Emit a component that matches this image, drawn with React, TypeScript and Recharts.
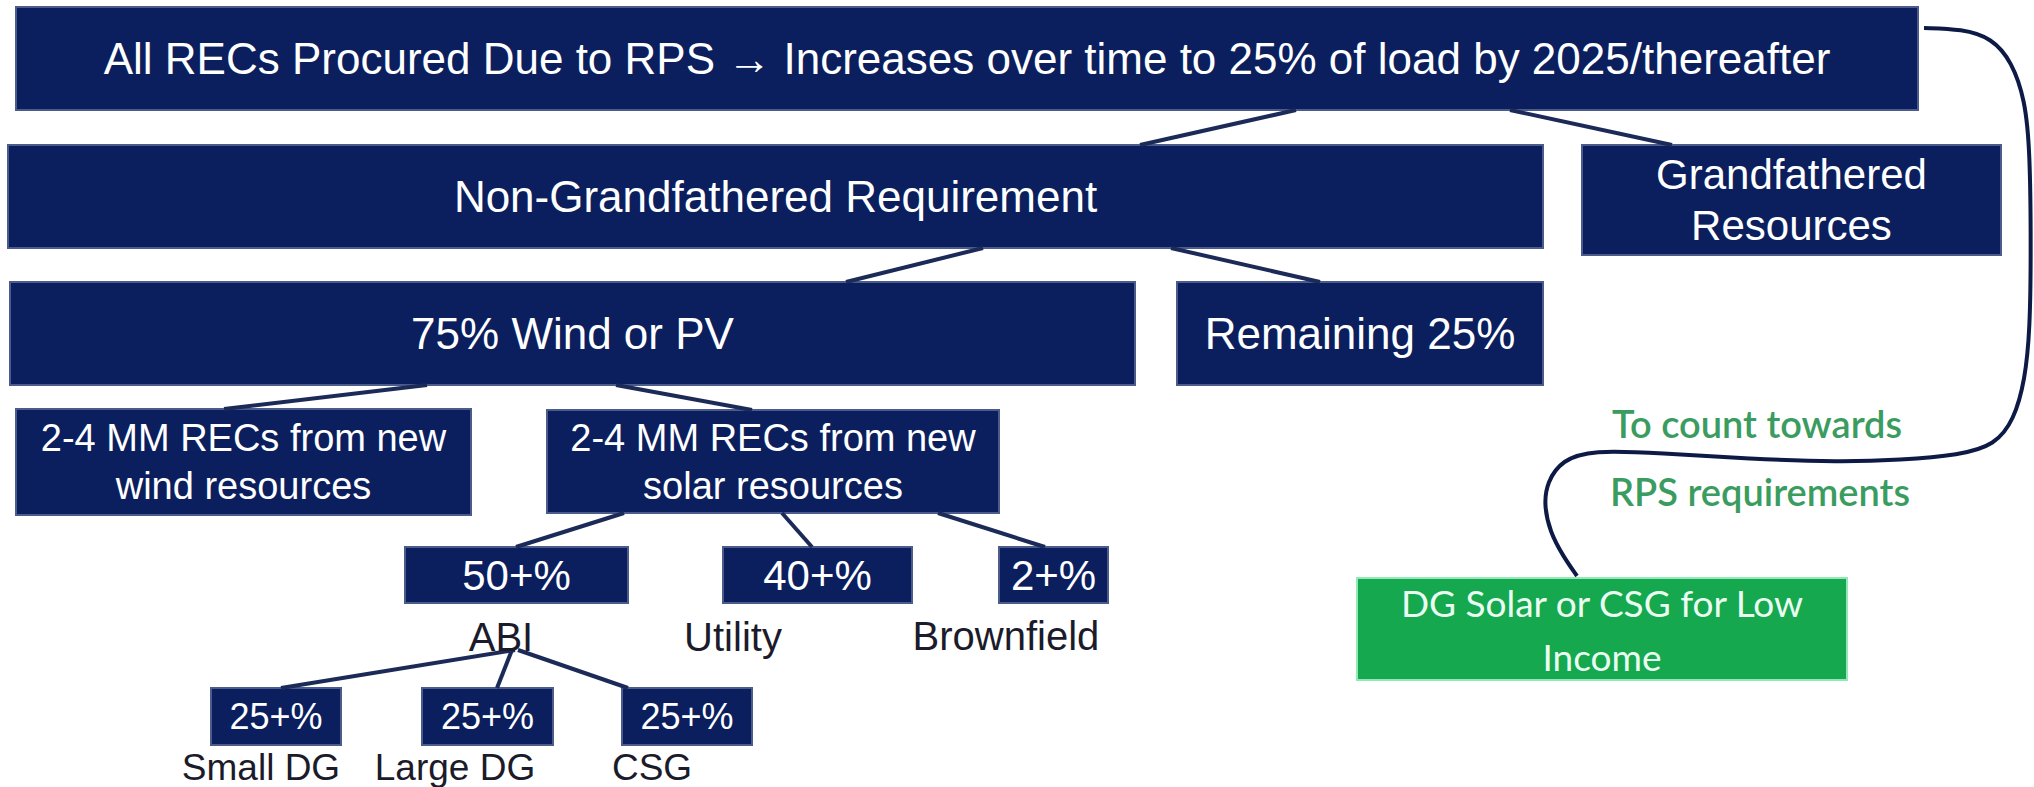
import React from "react";
import {
  ComposedChart,
  XAxis,
  YAxis,
  ReferenceArea,
  ReferenceLine,
  Line,
  Scatter,
} from "recharts";

// diagram lives in the picture's own pixel space: x 0..2034, y 0..787 (top down)
const boxes = [
  { text: "All RECs Procured Due to RPS \u2192 Increases over time to 25% of load by 2025/thereafter", x1: 16, x2: 1918, y1: 7, y2: 110, kind: "big" },
  { text: "Non-Grandfathered Requirement", x1: 8, x2: 1543, y1: 145, y2: 248, kind: "big" },
  { text: "Grandfathered\nResources", x1: 1582, x2: 2001, y1: 145, y2: 255, kind: "two" },
  { text: "75% Wind or PV", x1: 10, x2: 1135, y1: 282, y2: 385, kind: "big" },
  { text: "Remaining 25%", x1: 1177, x2: 1543, y1: 282, y2: 385, kind: "big" },
  { text: "2-4 MM RECs from new\nwind resources", x1: 16, x2: 471, y1: 409, y2: 515, kind: "recs" },
  { text: "2-4 MM RECs from new\nsolar resources", x1: 547, x2: 999, y1: 410, y2: 513, kind: "recs" },
  { text: "50+%", x1: 405, x2: 628, y1: 547, y2: 603, kind: "pct" },
  { text: "40+%", x1: 723, x2: 912, y1: 547, y2: 603, kind: "pct" },
  { text: "2+%", x1: 999, x2: 1108, y1: 547, y2: 603, kind: "pct" },
  { text: "25+%", x1: 211, x2: 341, y1: 688, y2: 745, kind: "small" },
  { text: "25+%", x1: 422, x2: 553, y1: 688, y2: 745, kind: "small" },
  { text: "25+%", x1: 622, x2: 752, y1: 688, y2: 745, kind: "small" },
  { text: "DG Solar or CSG for Low\nIncome", x1: 1357, x2: 1847, y1: 578, y2: 680, kind: "green" },
];

const connectors = [
  [1296, 110, 1140, 145],
  [1510, 110, 1672, 145],
  [983, 248, 846, 282],
  [1171, 248, 1320, 282],
  [427, 385, 224, 409],
  [616, 385, 752, 410],
  [624, 513, 516, 547],
  [782, 513, 812, 547],
  [938, 513, 1045, 547],
  [515, 650, 281, 688],
  [512, 650, 497, 688],
  [518, 650, 628, 688],
];

const bracket = [
  { x: 1924, y: 28 }, { x: 1962, y: 29 }, { x: 1992, y: 38 }, { x: 2012, y: 62 },
  { x: 2025, y: 100 }, { x: 2030, y: 150 }, { x: 2031, y: 250 }, { x: 2030, y: 330 },
  { x: 2025, y: 380 }, { x: 2014, y: 420 }, { x: 1995, y: 445 }, { x: 1960, y: 455 },
  { x: 1900, y: 460 }, { x: 1840, y: 462 }, { x: 1750, y: 459 }, { x: 1660, y: 453 },
  { x: 1592, y: 450 }, { x: 1562, y: 460 }, { x: 1547, y: 482 }, { x: 1544, y: 505 },
  { x: 1550, y: 532 }, { x: 1563, y: 556 }, { x: 1577, y: 576 },
];

const captions = [
  { text: "ABI", x: 501, y: 637, kind: "cap" },
  { text: "Utility", x: 733, y: 637, kind: "cap" },
  { text: "Brownfield", x: 1006, y: 636, kind: "cap" },
  { text: "Small DG", x: 261, y: 767, kind: "capSm" },
  { text: "Large DG", x: 455, y: 767, kind: "capSm" },
  { text: "CSG", x: 652, y: 767, kind: "capSm" },
  { text: "To count towards", x: 1757, y: 423, kind: "note" },
  { text: "RPS requirements", x: 1760, y: 491, kind: "note" },
];

const NAVY = "#0b1f5e";
const GREEN = "#15a84f";
const ARIAL = "'Liberation Sans', Arial, sans-serif";
const CALIBRI = "Lato, 'Open Sans', sans-serif";

const textStyle: Record<string, any> = {
  big: { size: 44, gap: 50, color: "#ffffff", font: ARIAL },
  two: { size: 42, gap: 51, color: "#ffffff", font: ARIAL },
  recs: { size: 38, gap: 48, color: "#ffffff", font: ARIAL },
  pct: { size: 42, gap: 48, color: "#ffffff", font: ARIAL },
  small: { size: 36, gap: 44, color: "#ffffff", font: ARIAL },
  green: { size: 37, gap: 54, color: "#eafff2", font: CALIBRI },
  cap: { size: 40, gap: 48, color: "#1b1b2b", font: ARIAL },
  capSm: { size: 37, gap: 44, color: "#1b1b2b", font: ARIAL },
  note: { size: 38, gap: 48, color: "#3a9c5f", font: CALIBRI, weight: 600 },
};

const boxCenters = boxes.map((b) => ({
  x: (b.x1 + b.x2) / 2,
  y: (b.y1 + b.y2) / 2,
  text: b.text,
  kind: b.kind,
}));

function MultiText(props: any) {
  const { cx, cy, payload } = props;
  if (cx == null || cy == null) return null;
  const st = textStyle[payload.kind];
  const lines = String(payload.text).split("\n");
  const off = ((lines.length - 1) * st.gap) / 2;
  return (
    <g>
      {lines.map((ln: string, i: number) => (
        <text
          key={i}
          x={cx}
          y={cy - off + i * st.gap}
          textAnchor="middle"
          dominantBaseline="central"
          fill={st.color}
          fontSize={st.size}
          fontFamily={st.font}
          fontWeight={st.weight || "normal"}
        >
          {ln}
        </text>
      ))}
    </g>
  );
}

export default function App() {
  return (
    <div style={{ position: "absolute", left: 0, top: 0, background: "#fff" }}>
      <ComposedChart width={2034} height={787} margin={{ top: 0, right: 0, bottom: 0, left: 0 }}>
        <XAxis type="number" dataKey="x" domain={[0, 2034]} allowDataOverflow hide />
        <YAxis type="number" dataKey="y" domain={[0, 787]} reversed allowDataOverflow hide />

        {connectors.map((c, i) => (
          <ReferenceLine
            key={"c" + i}
            segment={[
              { x: c[0], y: c[1] },
              { x: c[2], y: c[3] },
            ]}
            stroke="#1c2a58"
            strokeWidth={4}
            ifOverflow="visible"
          />
        ))}

        <Line
          data={bracket}
          dataKey="y"
          type="basis"
          stroke="#0d1a45"
          strokeWidth={4}
          dot={false}
          activeDot={false}
          isAnimationActive={false}
        />

        {boxes.map((b, i) => (
          <ReferenceArea
            key={"b" + i}
            x1={b.x1}
            x2={b.x2}
            y1={b.y1}
            y2={b.y2}
            fill={b.kind === "green" ? GREEN : NAVY}
            fillOpacity={1}
            stroke={b.kind === "green" ? "#92e8b6" : "#4b5c8c"}
            strokeWidth={2}
            ifOverflow="visible"
          />
        ))}

        <Scatter data={boxCenters} shape={MultiText} isAnimationActive={false} />
        <Scatter data={captions} shape={MultiText} isAnimationActive={false} />
      </ComposedChart>
    </div>
  );
}
